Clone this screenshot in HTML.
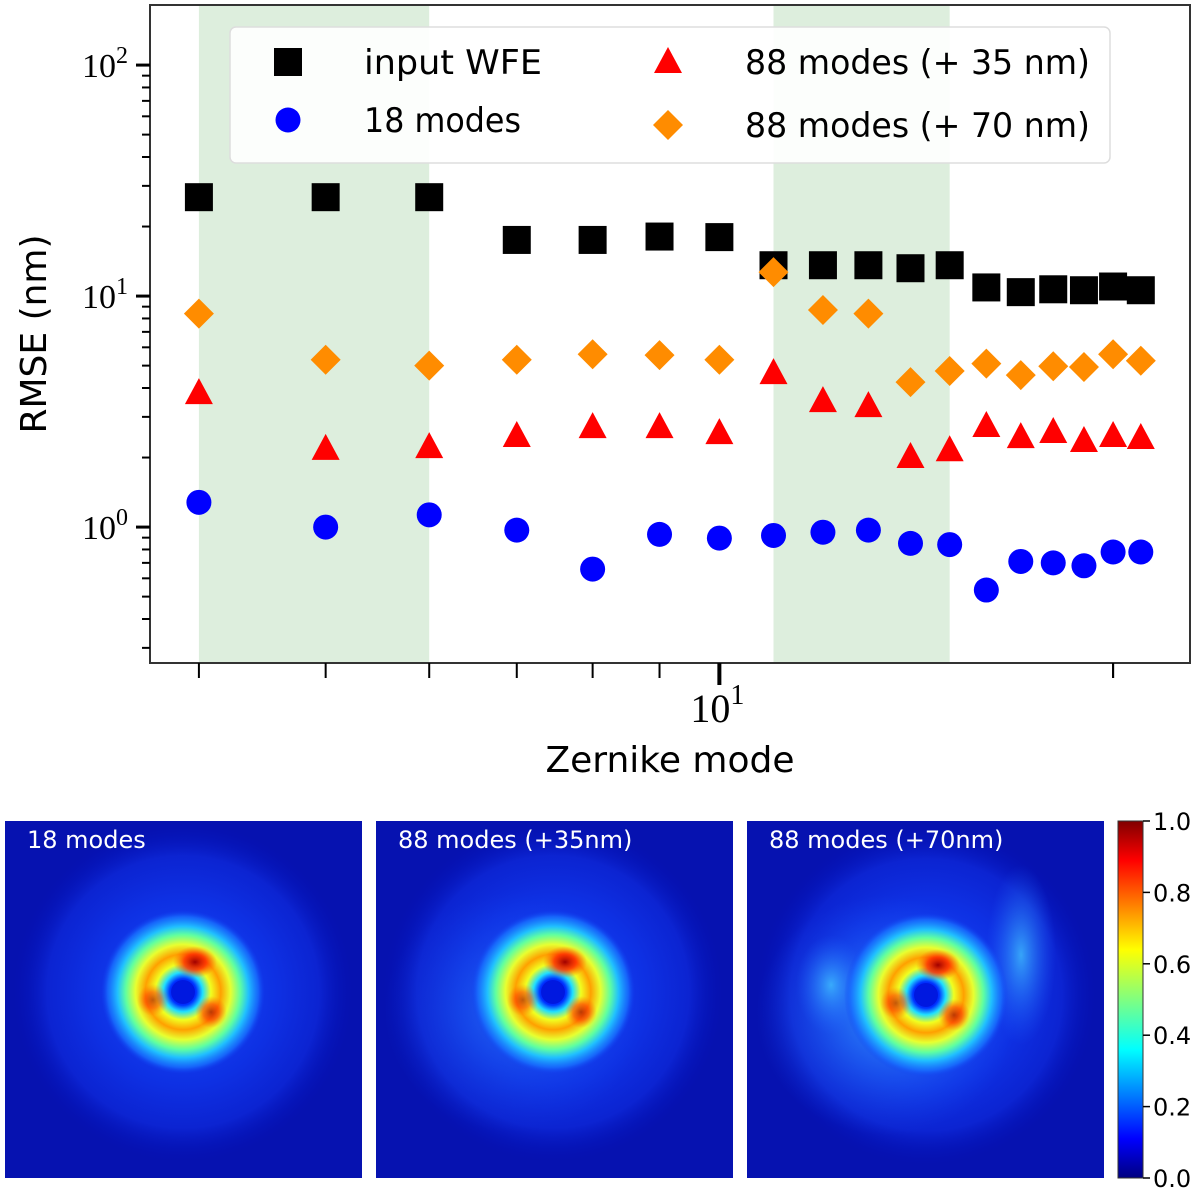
<!DOCTYPE html>
<html><head><meta charset="utf-8"><style>
body{margin:0;background:#fff;width:1200px;height:1194px;overflow:hidden}
svg{display:block}
</style></head><body>
<svg id="s" width="1200" height="1194" viewBox="0 0 1200 1194" xmlns="http://www.w3.org/2000/svg">
<defs>
<linearGradient id="jet" x1="0" y1="1" x2="0" y2="0">
<stop offset="0" stop-color="#000080"/><stop offset="0.11" stop-color="#0000ff"/><stop offset="0.36" stop-color="#00ffff"/><stop offset="0.5" stop-color="#80ff80"/><stop offset="0.64" stop-color="#ffff00"/><stop offset="0.89" stop-color="#ff0000"/><stop offset="1" stop-color="#800000"/>
</linearGradient>
<radialGradient id="halo"><stop offset="0" stop-color="#1a50ff" stop-opacity="1"/><stop offset="0.55" stop-color="#1038f0" stop-opacity="0.8"/><stop offset="0.8" stop-color="#1030e8" stop-opacity="0.6"/><stop offset="1" stop-color="#0010c0" stop-opacity="0"/></radialGradient>
<radialGradient id="core"><stop offset="0" stop-color="#0020e0"/><stop offset="0.16" stop-color="#0030ff"/><stop offset="0.24" stop-color="#20e0ff"/><stop offset="0.34" stop-color="#f0ff20"/><stop offset="0.46" stop-color="#ffa000"/><stop offset="0.58" stop-color="#e8ff30"/><stop offset="0.7" stop-color="#60ffa0"/><stop offset="0.8" stop-color="#20c0ff"/><stop offset="0.92" stop-color="#1870ff" stop-opacity="0.8"/><stop offset="1" stop-color="#1040f0" stop-opacity="0"/></radialGradient>
<radialGradient id="hot"><stop offset="0" stop-color="#a00000"/><stop offset="0.5" stop-color="#ff2000" stop-opacity="0.8"/><stop offset="1" stop-color="#ff6000" stop-opacity="0"/></radialGradient>
<radialGradient id="cy"><stop offset="0" stop-color="#40c0ff" stop-opacity="0.9"/><stop offset="1" stop-color="#2060ff" stop-opacity="0"/></radialGradient>
</defs>
<g id="chart"></g>
<g id="panels"></g>
</svg>
<script>
const modes=[4,5,6,7,8,9,10,11,12,13,14,15,16,17,18,19,20,21];
const inputWFE=[26.8,26.8,26.8,17.5,17.5,18.1,18,13.6,13.6,13.6,13.2,13.6,10.9,10.4,10.7,10.6,11,10.6];
const modes18=[1.28,1.0,1.13,0.97,0.658,0.93,0.896,0.92,0.95,0.97,0.85,0.84,0.534,0.71,0.70,0.68,0.78,0.78];
const modes88a=[3.8,2.18,2.22,2.48,2.71,2.71,2.55,4.64,3.51,3.34,2.01,2.15,2.74,2.45,2.58,2.36,2.48,2.43];
const modes88b=[8.4,5.3,5.0,5.3,5.6,5.55,5.3,12.7,8.7,8.4,4.24,4.74,5.1,4.55,4.97,4.93,5.6,5.25];
const spans=[[4,6],[11,15]];
const yTicks=[1,10,100];
const yTickLabels=["0","1","2"];
const cbTicks=[0,0.2,0.4,0.6,0.8,1.0];
const NS="http://www.w3.org/2000/svg";
const L=150,R=1190,T=5,B=663;
const xMin=Math.log10(3.67),xMax=Math.log10(22.9),yMin=Math.log10(0.258),yMax=Math.log10(182);
const X=v=>L+(Math.log10(v)-xMin)/(xMax-xMin)*(R-L);
const Y=v=>B-(Math.log10(v)-yMin)/(yMax-yMin)*(B-T);
const chart=document.getElementById('chart');
function el(tag,attrs,parent,txt){const e=document.createElementNS(NS,tag);for(const k in attrs)e.setAttribute(k,attrs[k]);if(txt!==undefined)e.textContent=txt;(parent||chart).appendChild(e);return e;}
spans.forEach(s=>{const r=el('rect',{x:X(s[0]),y:T,width:X(s[1])-X(s[0]),height:B-T,fill:'#ddeedd'});

});
const frame=el('rect',{x:L,y:T,width:R-L,height:B-T,fill:'none',stroke:'#333','stroke-width':2});


yTicks.forEach((v,i)=>{const y=Y(v);el('line',{x1:L-14,x2:L,y1:y,y2:y,stroke:'#000','stroke-width':3});
const t=el('text',{x:L-22,y:y+12,'text-anchor':'end','font-family':'Liberation Serif, serif','font-size':34},chart);


t.innerHTML='10<tspan dy="-14" font-size="24">'+yTickLabels[i]+'</tspan>';});
for(let d=-1;d<=2;d++)for(let m=2;m<10;m++){const v=m*Math.pow(10,d);if(v<0.258||v>182)continue;const y=Y(v);el('line',{x1:L-8,x2:L,y1:y,y2:y,stroke:'#000','stroke-width':2});}
modes.concat([20]).forEach(v=>{if(v>9&&v!==20&&v!==10)return;const x=X(v);const maj=v===10;el('line',{x1:x,x2:x,y1:B,y2:B+(maj?22:15),stroke:'#000','stroke-width':maj?4:2});});
const xt=el('text',{x:X(10)-2,y:722,'text-anchor':'middle','font-family':'Liberation Serif, serif','font-size':40});


xt.innerHTML='10<tspan dy="-18" font-size="28">1</tspan>';
const xl=el('text',{x:670,y:772,'text-anchor':'middle','font-family':'DejaVu Sans, sans-serif','font-size':36},chart,'Zernike mode');


const yl=el('text',{x:0,y:0,transform:'translate(46,334) rotate(-90)','text-anchor':'middle','font-family':'DejaVu Sans, sans-serif','font-size':36},chart,'RMSE (nm)');


function marker(type,x,y,s,g){
 if(type==='sq')return el('rect',{x:x-14,y:y-14,width:28,height:28,fill:'#000'},g);
 if(type==='ci')return el('circle',{cx:x,cy:y,r:12.5,fill:'#0000ff'},g);
 if(type==='tr')return el('polygon',{points:`${x},${y-15} ${x-14},${y+11} ${x+14},${y+11}`,fill:'#ff0000'},g);
 return el('polygon',{points:`${x},${y-15} ${x+15},${y} ${x},${y+15} ${x-15},${y}`,fill:'#ff8c00'},g);
}
const series=[['sq',inputWFE,'input-wfe'],['di',modes88b,'88-modes-70nm'],['tr',modes88a,'88-modes-35nm'],['ci',modes18,'18-modes']];
series.forEach(s=>{const g=el('g',{});


s[1].forEach((v,i)=>{const m=marker(s[0],X(modes[i]),Y(v),0,g);

});});
const lg=el('g',{});


el('rect',{x:230,y:27,width:880,height:136,rx:6,fill:'#fff','fill-opacity':0.9,stroke:'#ddd','stroke-width':1.5},lg);
const items=[['sq',288,62,364,'input WFE'],['ci',288,120,364,'18 modes'],['tr',668,62,745,'88 modes (+ 35 nm)'],['di',668,125,745,'88 modes (+ 70 nm)']];
items.forEach(it=>{marker(it[0],it[1],it[2],0,lg);
const t=el('text',{x:it[3],y:it[2]+12,'font-family':'DejaVu Sans, sans-serif','font-size':34,textLength:it[4].length>10?345:(it[4]==='input WFE'?178:157),lengthAdjust:'spacingAndGlyphs'},lg,it[4]);

});
const P=document.getElementById('panels');
const panels=[[5,'18 modes',183,992,0],[376,'88 modes (+35nm)',553,992,1],[747,'88 modes (+70nm)',926,995,2]];
panels.forEach(p=>{const g=el('g',{},P);


const x0=p[0],y0=821,W=357;
el('rect',{x:x0,y:y0,width:W,height:W,fill:'#0612b0'},g);
el('circle',{cx:p[2],cy:p[3],r:170,fill:'url(#halo)'},g);
if(p[4]>0){el('ellipse',{cx:p[2]-40,cy:p[3]+20,rx:130,ry:120,fill:'url(#cy)',opacity:0.35*p[4]},g);}
if(p[4]==2){el('ellipse',{cx:p[2]+95,cy:p[3]-40,rx:35,ry:90,fill:'url(#cy)',opacity:0.9},g);el('ellipse',{cx:p[2]-95,cy:p[3]-10,rx:35,ry:50,fill:'url(#cy)',opacity:0.9},g);}
el('circle',{cx:p[2],cy:p[3],r:82,fill:'url(#core)'},g);
el('ellipse',{cx:p[2]+12,cy:p[3]-30,rx:22,ry:16,fill:'url(#hot)'},g);
el('ellipse',{cx:p[2]+28,cy:p[3]+20,rx:16,ry:16,fill:'url(#hot)',opacity:0.7},g);
el('ellipse',{cx:p[2]-30,cy:p[3]+8,rx:16,ry:16,fill:'url(#hot)',opacity:0.6},g);
el('circle',{cx:p[2],cy:p[3],r:12,fill:'#0018e0'},g);
const t=el('text',{x:x0+22,y:y0+27,fill:'#fff','font-family':'DejaVu Sans, sans-serif','font-size':24},g,p[1]);


});
const cb=el('g',{},P);


const cT=821,cB=1178;
el('rect',{x:1118,y:cT,width:25,height:cB-cT,fill:'url(#jet)',stroke:'#333','stroke-width':1},cb);
cbTicks.forEach(v=>{const y=cB-v*(cB-cT);el('line',{x1:1143,x2:1150,y1:y,y2:y,stroke:'#000','stroke-width':1.5},cb);
const t=el('text',{x:1153,y:y+9,'font-family':'DejaVu Sans, sans-serif','font-size':24},cb,v.toFixed(1));

});
</script>
</body></html>
